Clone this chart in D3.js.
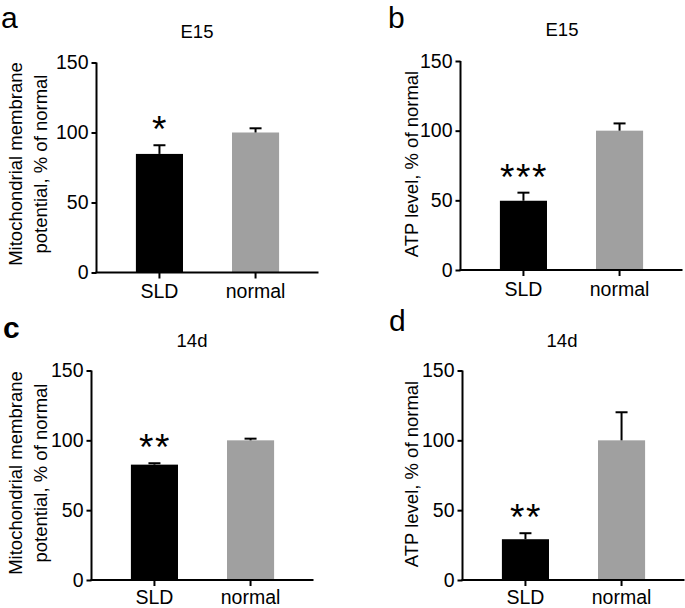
<!DOCTYPE html>
<html>
<head>
<meta charset="utf-8">
<script src="https://cdn.jsdelivr.net/npm/d3@7"></script>
<style>
  html, body { margin: 0; padding: 0; background: #fff; }
  svg { display: block; }
  text { font-family: "Liberation Sans", Arial, sans-serif; fill: #000; }
</style>
</head>
<body>
<svg id="chart" width="685" height="608"></svg>
<script>
// ---- Data ----
const categories = ["SLD", "normal"];
const yTicks = [0, 50, 100, 150];

const mmpE15 = [84.7, 100];
const mmpE15Err = [6.2, 3.0];
const atpE15 = [49.7, 100];
const atpE15Err = [5.8, 5.2];
const mmp14d = [82.6, 100];
const mmp14dErr = [1.0, 1.2];
const atp14d = [29.2, 100];
const atp14dErr = [4.3, 20.1];

const sigMarks = [["*", ""], ["***", ""], ["**", ""], ["**", ""]];
const panelLetters = ["a", "b", "c", "d"];
const panelTitles = ["E15", "E15", "14d", "14d"];
const yLabels = [
  ["Mitochondrial membrane", "potential, % of normal"],
  ["ATP level, % of normal"],
  ["Mitochondrial membrane", "potential, % of normal"],
  ["ATP level, % of normal"]
];
const barColors = ["#000000", "#a0a0a0"];

// ---- Layout ----
const panels = [
  { vals: mmpE15, errs: mmpE15Err, ax: 96.5, x1: 318.5, yTop: 62.5, yBot: 272.5, letter: [1, 27.5], title: [197, 38], ylab: [22, 47], ycenter: 164, xpad: 6 },
  { vals: atpE15, errs: atpE15Err, ax: 460.5, x1: 682.5, yTop: 61, yBot: 270, letter: [388, 27.5], title: [562, 36], ylab: [418], ycenter: 164, xpad: 6 },
  { vals: mmp14d, errs: mmp14dErr, ax: 91.5, x1: 313.5, yTop: 370.5, yBot: 580, letter: [3, 338], title: [192, 347], ylab: [22, 47], ycenter: 473, xpad: 4 },
  { vals: atp14d, errs: atp14dErr, ax: 462.5, x1: 684.5, yTop: 370.5, yBot: 580, letter: [389, 331], title: [562, 347], ylab: [418], ycenter: 474, xpad: 4 }
];

const svg = d3.select("#chart");
const fs = 18.5;
const tickFs = 19.5;
const starFs = 37;

panels.forEach((p, i) => {
  const g = svg.append("g");
  const x = d3.scaleBand().domain(categories).range([p.ax, p.x1]).paddingInner(0.51).paddingOuter(0.41);
  const y = d3.scaleLinear().domain([0, 150]).range([p.yBot, p.yTop]);

  // bars
  g.selectAll("rect.bar").data(categories).enter().append("rect")
    .attr("class", "bar")
    .attr("x", d => x(d))
    .attr("width", x.bandwidth())
    .attr("y", (d, j) => y(p.vals[j]))
    .attr("height", (d, j) => y(0) - y(p.vals[j]))
    .attr("fill", (d, j) => barColors[j]);

  // error bars (upper only)
  categories.forEach((c, j) => {
    const cx = x(c) + x.bandwidth() / 2;
    const top = y(p.vals[j] + p.errs[j]);
    g.append("line").attr("x1", cx).attr("x2", cx).attr("y1", y(p.vals[j])).attr("y2", top)
      .attr("stroke", "#000").attr("stroke-width", 2);
    g.append("line").attr("x1", cx - 6).attr("x2", cx + 6).attr("y1", top).attr("y2", top)
      .attr("stroke", "#000").attr("stroke-width", 2);
    const mark = sigMarks[i][j];
    if (mark) {
      g.append("text").attr("x", cx + 0.5).attr("y", top - 3)
        .attr("text-anchor", "middle").attr("font-size", starFs)
        .attr("letter-spacing", 1.5)
        .text(mark);
    }
  });

  // y axis
  const yAxis = d3.axisLeft(y).tickValues(yTicks).tickSize(5).tickPadding(3).tickFormat(d3.format("d"));
  const ya = g.append("g").attr("transform", `translate(${p.ax},0)`).call(yAxis);
  ya.select(".domain").attr("d", `M0,${p.yBot}V${p.yTop}`).attr("stroke-width", 2);
  ya.selectAll(".tick line").attr("stroke-width", 2);
  ya.selectAll(".tick text").attr("font-size", tickFs).attr("fill", "#000");

  // x axis
  const xAxis = d3.axisBottom(x).tickSize(6).tickPadding(p.xpad);
  const xa = g.append("g").attr("transform", `translate(0,${p.yBot})`).call(xAxis);
  xa.select(".domain").attr("d", `M${p.ax - 1},0H${p.x1}`).attr("stroke-width", 2);
  xa.selectAll(".tick line").attr("stroke-width", 2);
  xa.selectAll(".tick text").attr("font-size", tickFs).attr("fill", "#000");

  // title
  g.append("text").attr("x", p.title[0]).attr("y", p.title[1]).attr("text-anchor", "middle")
    .attr("font-size", 18.5).text(panelTitles[i]);

  // panel letter
  g.append("text").attr("x", p.letter[0]).attr("y", p.letter[1])
    .attr("font-size", 30).attr("font-weight", i === 2 ? 700 : 400).text(panelLetters[i]);

  // y label
  yLabels[i].forEach((t, k) => {
    g.append("text")
      .attr("transform", `translate(${p.ylab[k]},${p.ycenter}) rotate(-90)`)
      .attr("text-anchor", "middle").attr("font-size", fs).text(t);
  });
});
</script>
</body>
</html>
